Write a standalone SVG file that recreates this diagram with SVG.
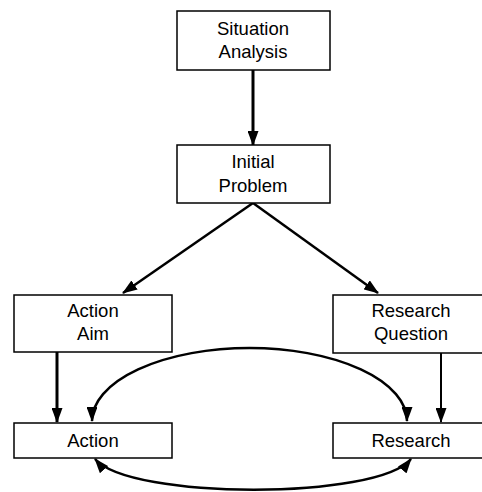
<svg xmlns="http://www.w3.org/2000/svg" width="482" height="492" viewBox="0 0 482 492">
<defs>
<style>
.box{fill:#fff;stroke:#000;stroke-width:1.5}
.lbl{font-family:"Liberation Sans",Arial,sans-serif;font-size:18.5px;fill:#000;text-anchor:middle}
.conn{fill:none;stroke:#000;stroke-linecap:butt}
</style>
<marker id="ah" viewBox="0 0 15 11" refX="14" refY="5.5" markerWidth="15" markerHeight="11" markerUnits="userSpaceOnUse" orient="auto-start-reverse">
<path d="M0,0 L15,5.5 L0,11 Z" fill="#000"/>
</marker>
</defs>
<rect width="482" height="492" fill="#fff"/>
<g id="connectors">
<path class="conn" d="M253,70 V145" stroke-width="3" marker-end="url(#ah)"/>
<path class="conn" d="M253,203 L123,293" stroke-width="2.5" marker-end="url(#ah)"/>
<path class="conn" d="M253,203 L378,293" stroke-width="2.5" marker-end="url(#ah)"/>
<path class="conn" d="M57,352 V422" stroke-width="3" marker-end="url(#ah)"/>
<path class="conn" d="M441,353 V422" stroke-width="2" marker-end="url(#ah)"/>
<path class="conn" d="M92,421 A157.5,73 0 0 1 407,421" stroke-width="2.5" marker-start="url(#ah)" marker-end="url(#ah)"/>
<path class="conn" d="M95,459 C130,500 378,500 411,459" stroke-width="2.5" marker-start="url(#ah)" marker-end="url(#ah)"/>
</g>
<g id="situation-analysis">
<rect class="box" x="177" y="11" width="153" height="59"/>
<text class="lbl" x="253" y="35">Situation</text>
<text class="lbl" x="253" y="58">Analysis</text>
</g>
<g id="initial-problem">
<rect class="box" x="177" y="145" width="153" height="58"/>
<text class="lbl" x="253" y="168">Initial</text>
<text class="lbl" x="253" y="192">Problem</text>
</g>
<g id="action-aim">
<rect class="box" x="14" y="295" width="158" height="57"/>
<text class="lbl" x="93" y="317">Action</text>
<text class="lbl" x="93" y="340">Aim</text>
</g>
<g id="research-question">
<rect class="box" x="333" y="295" width="156" height="58"/>
<text class="lbl" x="411" y="317">Research</text>
<text class="lbl" x="411" y="340">Question</text>
</g>
<g id="action">
<rect class="box" x="14" y="423" width="158" height="35"/>
<text class="lbl" x="93" y="447">Action</text>
</g>
<g id="research">
<rect class="box" x="333" y="423" width="156" height="35"/>
<text class="lbl" x="411" y="447">Research</text>
</g>
</svg>
